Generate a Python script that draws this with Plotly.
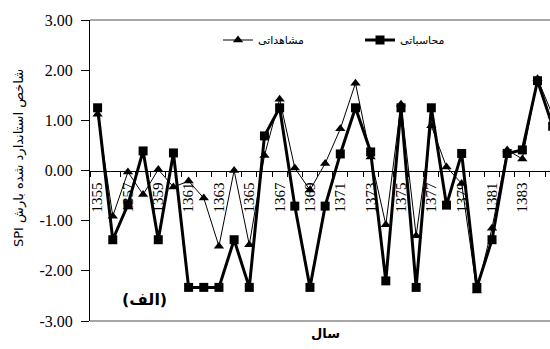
import plotly.graph_objects as go

years = list(range(1355, 1386))
computed = [1.25, -1.38, -0.68, 0.39, -1.38, 0.35, -2.33, -2.33, -2.33, -1.38,
            -2.33, 0.69, 1.25, -0.71, -2.33, -0.71, 0.33, 1.25, 0.37, -2.20,
            1.25, -2.33, 1.25, -0.69, 0.34, -2.33, -1.38, 0.34, 0.41, 1.79, 0.88]
observed = [1.12, -0.91, -0.03, -0.48, 0.02, -0.33, -0.21, -0.55, -1.51, 0.00,
            -1.48, 0.30, 1.42, 0.05, -0.39, 0.14, 0.83, 1.74, 0.27, -1.08,
            1.32, -1.30, 0.89, 0.07, -0.26, -2.40, -1.15, 0.41, 0.23, 1.83, 1.10]
ytick_vals = [-3, -2, -1, 0, 1, 2, 3]
ytick_text = ["-3.00", "-2.00", "-1.00", "0.00", "1.00", "2.00", "3.00"]
xtick_years = list(range(1355, 1386, 2))
xtick_text = [str(v) for v in xtick_years]
xminor = [v + 0.5 for v in range(1354, 1386)]
name_computed = "محاسباتی"
name_observed = "مشاهداتی"
ytitle = "SPI شاخص استاندارد شده بارش"
xtitle = "سال"
panel = "(الف)"

SERIF = "Liberation Serif, Times New Roman, serif"
ARABIC = "DejaVu Sans, sans-serif"

fig = go.Figure()
fig.add_trace(go.Scatter(
    x=years, y=computed, mode="lines+markers", name=name_computed,
    line=dict(color="black", width=3),
    marker=dict(symbol="square", size=9, color="black"),
    legend="legend2"))
fig.add_trace(go.Scatter(
    x=years, y=observed, mode="lines+markers", name=name_observed,
    line=dict(color="black", width=1),
    marker=dict(symbol="triangle-up", size=9, color="black"),
    legend="legend"))

L, R, T, B = 90, 0, 20, 28
W, H = 550, 349
pw = W - L - R
ph = H - T - B

def px_x(p):
    return (p - L) / pw

def px_y(p):
    return (H - B - p) / ph

fig.update_layout(
    width=W, height=H,
    margin=dict(l=L, r=R, t=T, b=B, pad=0),
    paper_bgcolor="white", plot_bgcolor="white",
    xaxis=dict(
        range=[1354.5, 1354.5 + pw / 15.17],
        anchor="free", position=0.5,
        showline=True, linecolor="black", linewidth=1,
        tickmode="array", tickvals=xtick_years, ticktext=xtick_text,
        tickangle=-90, ticks="outside", ticklen=5, tickcolor="rgba(0,0,0,0)",
        minor=dict(tickmode="array", tickvals=xminor, ticks="outside",
                   ticklen=5, tickcolor="black", showgrid=False),
        showgrid=False, zeroline=False,
        tickfont=dict(family=SERIF, size=15, color="black"),
    ),
    yaxis=dict(
        range=[-3, 3],
        showline=True, linecolor="black", linewidth=1,
        tickmode="array", tickvals=ytick_vals, ticktext=ytick_text,
        ticks="outside", ticklen=8, tickcolor="black",
        ticklabelstandoff=5,
        showgrid=False, zeroline=False,
        tickfont=dict(family=SERIF, size=16, color="black"),
    ),
    legend=dict(x=px_x(218), y=px_y(40), xanchor="left", yanchor="middle",
                bgcolor="rgba(0,0,0,0)", itemwidth=30,
                font=dict(family=ARABIC, size=11, color="black")),
    legend2=dict(x=px_x(360), y=px_y(40), xanchor="left", yanchor="middle",
                 bgcolor="rgba(0,0,0,0)", itemwidth=30,
                 font=dict(family=ARABIC, size=11, color="black")),
    showlegend=True,
    shapes=[
        dict(type="line", xref="paper", yref="paper", x0=0, x1=1, y0=1, y1=1,
             line=dict(color="#8a8a8a", width=1.5)),
        dict(type="line", xref="paper", yref="paper", x0=0, x1=1, y0=0, y1=0,
             line=dict(color="#8a8a8a", width=1.5)),
    ],
    annotations=[
        dict(text=ytitle, textangle=-90, xref="paper", yref="paper",
             x=px_x(19), y=px_y(158), xanchor="center", yanchor="middle",
             showarrow=False,
             font=dict(family=ARABIC, size=13, color="black")),
        dict(text=xtitle, xref="paper", yref="paper",
             x=px_x(325), y=px_y(333), xanchor="center", yanchor="middle",
             showarrow=False,
             font=dict(family=ARABIC, size=13, color="black", weight="bold")),
        dict(text=panel, xref="paper", yref="paper",
             x=px_x(144), y=px_y(299), xanchor="center", yanchor="middle",
             showarrow=False,
             font=dict(family=ARABIC, size=16, color="black", weight="bold")),
    ],
)

fig.write_html("out.html", config={"displayModeBar": False},
               post_script="document.body.style.margin='0';")
